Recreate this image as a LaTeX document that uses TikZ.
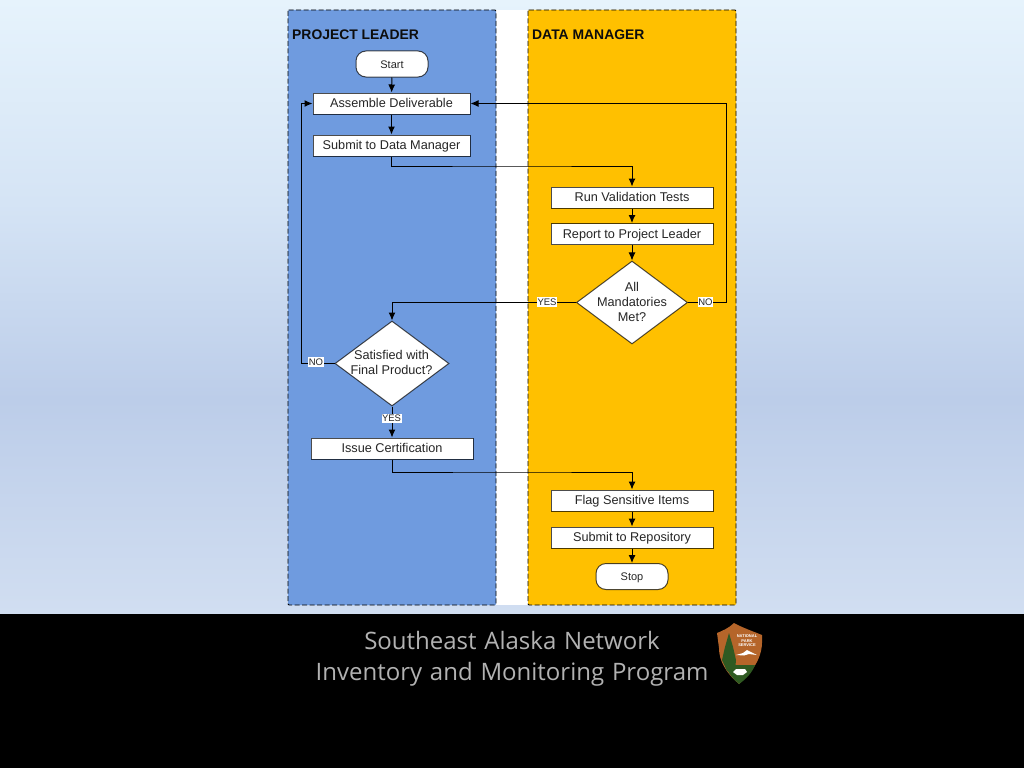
\documentclass[tikz,border=0pt]{standalone}
\usepackage{fontspec}
\setmainfont{Liberation Sans}
\newfontfamily\footfont[WordSpace=1.25]{Open Sans}
\usetikzlibrary{arrows.meta,shapes.geometric}
\definecolor{leaderblue}{HTML}{6F9BDF}
\definecolor{manageramber}{HTML}{FFC000}
\definecolor{badgebrown}{HTML}{B5652A}
\definecolor{badgegreen}{HTML}{2F5A22}
\definecolor{skya}{HTML}{D1DEF1}
\definecolor{skyb}{HTML}{BCCDE9}
\definecolor{skyc}{HTML}{D5E4F5}
\definecolor{skyd}{HTML}{E6F3FC}
\pgfdeclareverticalshading{skyshade}{100bp}{
  color(0bp)=(skya); color(25bp)=(skya); color(42.5bp)=(skyb); color(58.5bp)=(skyc); color(75bp)=(skyd); color(100bp)=(skyd)}
\tikzset{
  lane/.style={draw=black, dash pattern=on 5pt off 2.5pt, line width=0.9pt, rounded corners=1pt},
  lanetitle/.style={anchor=west, font=\bfseries\fontsize{13.9}{16}\selectfont, text=black!95},
  stepbox/.style={draw=black, draw opacity=0.7, fill=white, line width=1pt, inner sep=0pt, minimum height=21pt, text height=10pt, text depth=2pt, text=black!85, font=\fontsize{12.7}{15}\selectfont},
  terminal/.style={stepbox, rounded corners=10pt, minimum width=72pt, minimum height=26pt, font=\fontsize{11}{13}\selectfont},
  decision/.style={diamond, draw=black, draw opacity=0.7, fill=white, line width=1pt, inner sep=0pt, aspect=1.34},
  decisiontext/.style={align=center, inner sep=0pt, text=black!85, font=\fontsize{12.7}{15}\selectfont},
  flow/.style={draw=black, line width=1pt, -{Latex[length=8pt,width=7pt]}},
  answer/.style={fill=white, inner xsep=0.5pt, inner ysep=1.5pt, text=black!85, font=\fontsize{9.5}{10}\selectfont},
  footline/.style={anchor=base, inner sep=0pt, text=black!30, font=\footfont\fontsize{24}{30}\selectfont},
}
\begin{document}
\begin{tikzpicture}[x=1pt,y=-1pt]
    \useasboundingbox (0,0) rectangle (1024,768);
    \shade[shading=skyshade] (0,0) rectangle (1024,614);
    \fill[black] (0,614) rectangle (1024,768);
    \fill[white] (496,10) rectangle (528,605);
    \draw[lane, fill=leaderblue] (288,10) rectangle (496,605);
    \draw[lane, fill=manageramber] (528,10) rectangle (736,605);
    \node[lanetitle, inner sep=0pt] (leader) at (292,34.5) {PROJECT LEADER};
    \node[lanetitle, inner sep=0pt] (manager) at (532,34.5) {DATA MANAGER};

    \node[terminal] (start) at (392,64) {Start};
    \node[terminal] (stop) at (632,576.5) {Stop};
    \foreach \name/\x/\y/\w/\label in {
        assemble/391.5/103.5/157/Assemble Deliverable,
        submit/391.5/145.5/157/Submit to Data Manager,
        run/632/197.5/162/Run Validation Tests,
        report/632/234/162/Report to Project Leader,
        issue/392/448.5/162/Issue Certification,
        flag/632/500.5/162/Flag Sensitive Items,
        repository/632/537.5/162/Submit to Repository}
    \node[stepbox, minimum width=\w pt] (\name) at (\x,\y) {\label};

    \node[decision, minimum width=111pt, minimum height=83pt] (met) at (632,302.5) {};
    \node[decisiontext] (mettext) at (632,301.5) {All\\Mandatories\\Met?};
    \node[decision, minimum width=114pt, minimum height=85pt] (satisfied) at (392,363.5) {};
    \node[decisiontext] (satisfiedtext) at (391.5,362.5) {Satisfied with\\Final Product?};

    \foreach \a/\b in {start/assemble, assemble/submit, run/report, report/met, flag/repository, repository/stop}
    \draw[flow] (\a) -- (\b);
    \draw[flow] (satisfied) -- (issue);

    \coordinate (tovalidate) at (512,166);
    \coordinate (tosensitive) at (512,472);
    \coordinate (yesbend) at (392,302.5);
    \coordinate (nobendright) at (726,302.5);
    \coordinate (nobendleft) at (301,363.5);
    \draw[flow] (submit.south) |- (tovalidate) -| (run.north);
    \draw[flow] (issue.south) |- (tosensitive) -| (flag.north);
    \draw[flow] (met.west) -- (yesbend) -- (satisfied.north);
    \draw[flow] (met.east) -- (nobendright) |- (assemble.east);
    \draw[flow] (satisfied.west) -- (nobendleft) |- (assemble.west);

    \node[answer] (metyes) at (547,302) {YES};
    \node[answer] (metno) at (705.5,302) {NO};
    \node[answer] (satno) at (316,362) {NO};
    \node[answer] (satyes) at (391.5,418.5) {YES};

    \node[footline] (line1) at (512,649) {Southeast Alaska Network};
    \node[footline] (line2) at (512,680) {Inventory and Monitoring Program};

    \fill[badgebrown] (734,623) .. controls (741,627) and (752,631) .. (762,635) .. controls (763,650) and (760,665) .. (739,684) .. controls (725,672) and (719,660) .. (719,648) -- (717,633) .. controls (722,631) and (729,628) .. (734,623) -- cycle;
    \fill[badgegreen] (739,684) .. controls (733,679) and (728,673) .. (725,665) -- (755,665) .. controls (752,673) and (746,679) .. (739,684) -- cycle;
    \fill[badgegreen] (729,633) -- (733,647) -- (736,660) -- (735,671) -- (727,671) -- (722,660) -- (725,647) -- cycle;
    \fill[white] (736,655) -- (743,653) -- (747,650) -- (751,652) -- (757,655) -- (749,654) -- (744,655.5) -- cycle;
    \fill[white] (733,672) -- (736,669) -- (745,669) -- (747,672) -- (743,675) -- (737,675) -- cycle;
    \node[text=white, align=center, inner sep=0pt, font=\bfseries\fontsize{4}{4.6}\selectfont] (badge) at (747,641) {NATIONAL\\PARK\\SERVICE};
\end{tikzpicture}
\end{document}
